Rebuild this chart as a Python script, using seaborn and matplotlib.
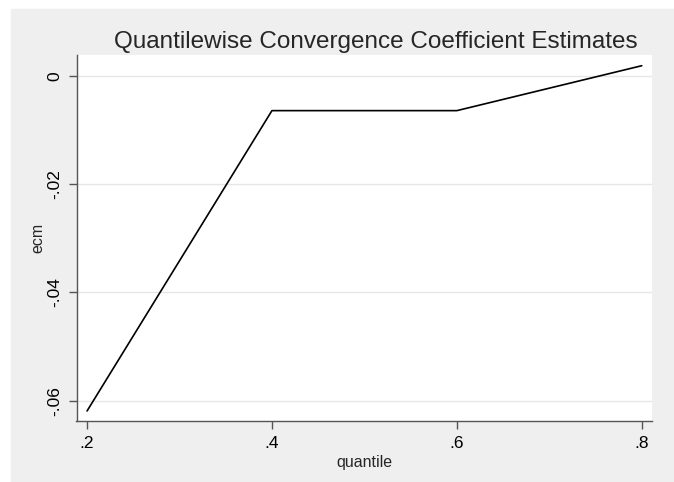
import pandas as pd
import matplotlib.pyplot as plt
import seaborn as sns
from matplotlib.patches import Rectangle

quantile = [0.2, 0.4, 0.6, 0.8]
ecm = [-0.0619, -0.0064, -0.0064, 0.0019]
yticks = [0, -0.02, -0.04, -0.06]
ytick_labels = ["0", "-.02", "-.04", "-.06"]
xticks = [0.2, 0.4, 0.6, 0.8]
xtick_labels = [".2", ".4", ".6", ".8"]

df = pd.DataFrame({"quantile": quantile, "ecm": ecm})

sns.set_style("white")
plt.rcParams['font.family'] = ['Liberation Sans', 'DejaVu Sans']

W, H = 674, 482
fig = plt.figure(figsize=(W / 100, H / 100), dpi=100)
fig.patch.set_facecolor("white")
fig.add_artist(Rectangle((11 / W, 0), 1 - 11 / W, 1 - 9 / H,
                         transform=fig.transFigure, color="#efefef", zorder=-10))

left, right, top, bottom = 76.5, 652, 55, 421
ax = fig.add_axes([left / W, 1 - bottom / H, (right - left) / W, (bottom - top) / H])
ax.set_facecolor("white")

sns.lineplot(data=df, x="quantile", y="ecm", color="black", linewidth=1.2, ax=ax)

ax.set_xlim(0.1886, 0.8111)
ax.set_ylim(-0.06375, 0.00388)
ax.set_yticks(yticks)
ax.set_yticklabels(ytick_labels, rotation=90, va="center")
ax.set_xticks(xticks)
ax.set_xticklabels(xtick_labels)
ax.grid(axis="y", color="#e6e6e6", linewidth=1.0)
ax.grid(axis="x", visible=False)
ax.set_axisbelow(True)

for s in ["top", "right"]:
    ax.spines[s].set_visible(False)
for s in ["left", "bottom"]:
    ax.spines[s].set_color("#555555")
    ax.spines[s].set_linewidth(1.0)
ax.tick_params(axis="both", direction="out", length=5.5, width=1, color="#555555",
               labelsize=12.5, labelcolor="black", pad=5, left=True, bottom=True)

ax.set_xlabel("quantile", fontsize=11.5, labelpad=3)
ax.set_ylabel("ecm", fontsize=11.5, labelpad=1)
ax.set_title("Quantilewise Convergence Coefficient Estimates", fontsize=17.5, pad=5, x=0.52)

fig.savefig("out.png", dpi=100)
